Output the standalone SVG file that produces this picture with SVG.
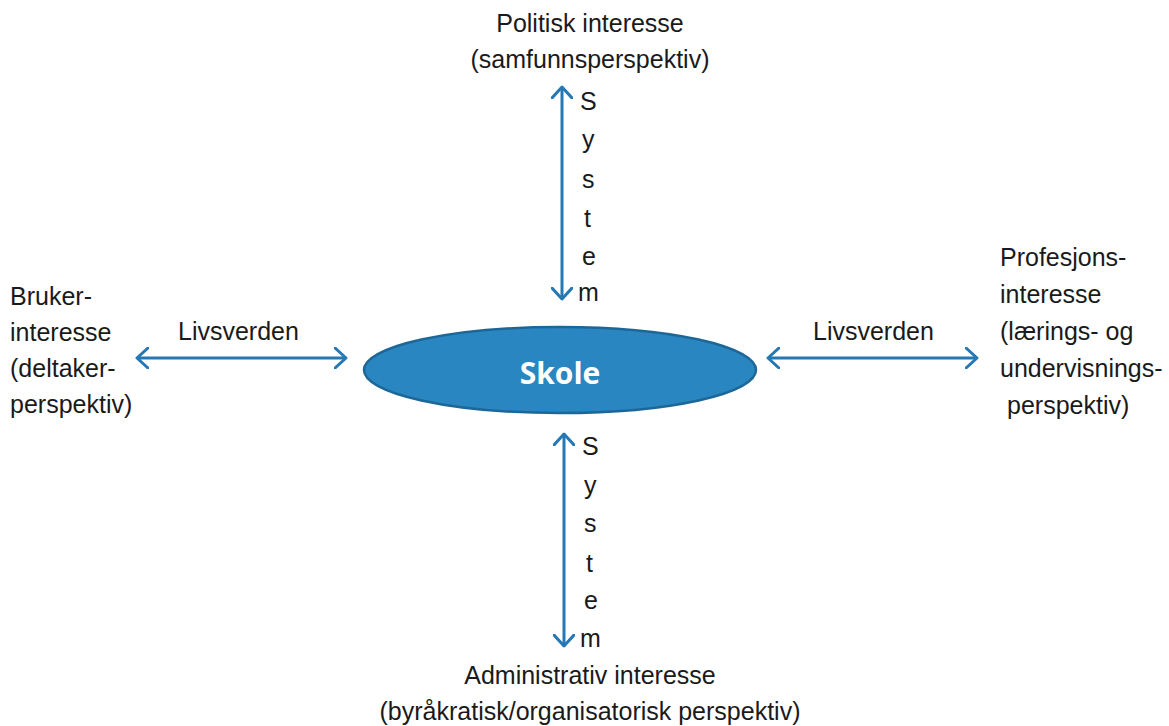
<svg xmlns="http://www.w3.org/2000/svg" width="1169" height="726" viewBox="0 0 1169 726">
  <style>
    .lbl { font-family: "Liberation Sans", Arial, sans-serif; font-size: 25px; fill: #1a1a1a; }
    .mid { text-anchor: middle; }
    .conn { stroke: #2578b3; stroke-width: 3; fill: none; marker-start: url(#chev); marker-end: url(#chev); }
  </style>
  <defs>
    <marker id="chev" viewBox="0 0 14 22" refX="12" refY="11" markerWidth="14" markerHeight="22" markerUnits="userSpaceOnUse" orient="auto-start-reverse">
      <path d="M1,1 L12,11 L1,21" fill="none" stroke="#2578b3" stroke-width="3" stroke-linecap="round" stroke-linejoin="round"/>
    </marker>
  </defs>
  <rect width="1169" height="726" fill="#ffffff"/>

  <!-- connectors -->
  <g id="connectors">
    <line class="conn" x1="562" y1="87" x2="562" y2="299"/>
    <line class="conn" x1="564" y1="434" x2="564" y2="646"/>
    <line class="conn" x1="137" y1="358" x2="346" y2="358"/>
    <line class="conn" x1="768" y1="358" x2="977" y2="358"/>
    <g id="system-top" class="lbl">
      <text x="580" y="110">S</text>
      <text x="582" y="148">y</text>
      <text x="582" y="188">s</text>
      <text x="584" y="227">t</text>
      <text x="582" y="265">e</text>
      <text x="578" y="301">m</text>
    </g>
    <g id="system-bottom" class="lbl">
      <text x="582" y="455">S</text>
      <text x="584" y="494">y</text>
      <text x="584" y="532">s</text>
      <text x="586" y="572">t</text>
      <text x="584" y="609">e</text>
      <text x="580" y="647">m</text>
    </g>
    <text class="lbl" x="178" y="340">Livsverden</text>
    <text class="lbl" x="813" y="340">Livsverden</text>
  </g>

  <!-- centre node -->
  <g id="skole">
    <ellipse cx="560" cy="370" rx="196" ry="43" fill="#2a86c0" stroke="#1d6798" stroke-width="2.5"/>
    <text x="560" y="384" text-anchor="middle" font-family="Open Sans, Lato, sans-serif" font-weight="bold" font-size="30" fill="#ffffff">Skole</text>
  </g>

  <g id="politisk">
    <text class="lbl mid" x="590" y="32">Politisk interesse</text>
    <text class="lbl mid" x="590" y="68">(samfunnsperspektiv)</text>
  </g>

  <g id="administrativ">
    <text class="lbl mid" x="590" y="684">Administrativ interesse</text>
    <text class="lbl mid" x="590" y="720">(byråkratisk/organisatorisk perspektiv)</text>
  </g>

  <g id="bruker">
    <text class="lbl" x="10" y="305">Bruker-</text>
    <text class="lbl" x="10" y="341">interesse</text>
    <text class="lbl" x="10" y="377">(deltaker-</text>
    <text class="lbl" x="10" y="413">perspektiv)</text>
  </g>

  <g id="profesjon">
    <text class="lbl" x="1000" y="266">Profesjons-</text>
    <text class="lbl" x="1000" y="303">interesse</text>
    <text class="lbl" x="1000" y="340">(lærings- og</text>
    <text class="lbl" x="1000" y="377">undervisnings-</text>
    <text class="lbl" x="1007" y="414">perspektiv)</text>
  </g>
</svg>
